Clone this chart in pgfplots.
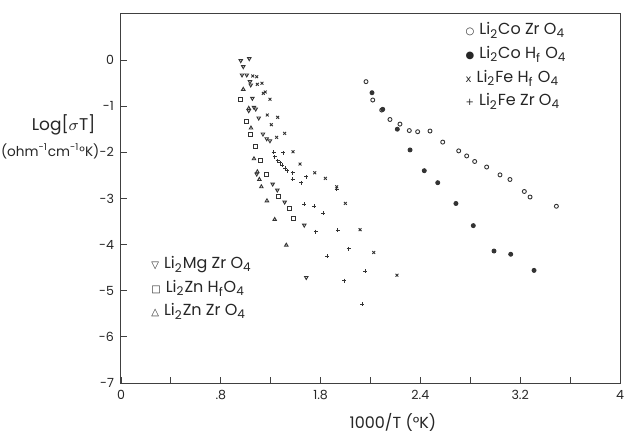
\documentclass[border=0pt]{standalone}
\usepackage{pgfplots}
\pgfplotsset{compat=1.18}
\usepackage{fontspec}
\setmainfont{Poppins}
\newfontfamily\sym{DejaVu Sans}

\newcommand{\sub}[1]{\textsubscript{#1}}
\newcommand{\leg}[2]{{\sym\fontsize{5}{6}\selectfont #1}\hspace{2.5pt}#2}

\begin{document}
\begin{tikzpicture}
\path[use as bounding box] (-60.5pt,-28pt) rectangle (257.5pt,191.5pt);
\begin{axis}[
  at={(0,0)}, anchor=south west,
  width=249.5pt, height=184.6pt, scale only axis,
  xmin=0, xmax=4, ymin=-7, ymax=1,
  xtick={0,0.4,0.8,1.2,1.6,2,2.4,2.8,3.2,3.6,4},
  xticklabels={0,,.8,,1.8,,2.4,,3.2,,4},
  ytick={-7,-6,-5,-4,-3,-2,-1,0},
  tick pos=left, tick align=inside,
  major tick length=3pt,
  axis line style={black!75, line width=0.5pt},
  every tick/.style={black!75, line width=0.4pt},
  tick label style={font=\fontsize{6.3}{7}\selectfont, text=black!85},
  /pgf/number format/assume math mode=true,
  clip=false,
  pts/.style={only marks, mark size=1pt, color=black!80, mark options={line width=0.45pt}},
]
% Li2 Co Zr O4
\addplot[pts, mark=o] coordinates {
(1.964,-0.47)(2.018,-0.868)(2.09,-1.085)(2.156,-1.29)(2.236,-1.39)(2.311,-1.53)
(2.378,-1.555)(2.477,-1.54)(2.579,-1.78)(2.707,-1.97)(2.771,-2.08)(2.835,-2.20)
(2.931,-2.32)(3.038,-2.49)(3.118,-2.59)(3.233,-2.85)(3.279,-2.97)(3.49,-3.17)};
% Li2 Co Hf O4
\addplot[pts, mark=*] coordinates {
(2.012,-0.71)(2.098,-1.07)(2.215,-1.50)(2.317,-1.95)(2.431,-2.40)(2.539,-2.66)
(2.685,-3.11)(2.824,-3.59)(2.99,-4.14)(3.124,-4.21)(3.311,-4.56)};
% Li2 Fe Hf O4
\addplot[pts, mark=x] coordinates {
(1.056,-0.347)(1.088,-0.362)(1.093,-0.527)(1.130,-0.505)(1.141,-0.722)(1.157,-0.694)
(1.194,-0.852)(1.173,-1.193)(1.256,-1.243)(1.205,-1.403)(1.248,-1.677)(1.312,-1.590)
(1.379,-1.989)(1.435,-2.256)(1.553,-2.445)(1.638,-2.566)(1.729,-2.748)(1.798,-3.108)
(1.916,-3.677)(2.026,-4.171)(2.212,-4.664)};
% Li2 Fe Zr O4
\addplot[pts, mark=+] coordinates {
(1.224,-2.002)(1.301,-2.011)(1.234,-2.098)(1.256,-2.184)(1.277,-2.228)(1.291,-2.278)
(1.317,-2.349)(1.333,-2.401)(1.376,-2.445)(1.485,-2.531)(1.376,-2.588)(1.443,-2.662)
(1.729,-2.798)(1.467,-3.130)(1.547,-3.167)(1.619,-3.325)(1.562,-3.720)(1.739,-3.694)
(1.651,-4.252)(1.825,-4.093)(1.958,-4.577)(1.790,-4.779)(1.934,-5.293)};
% Li2 Mg Zr O4
\addplot[pts, mark=triangle, mark options={rotate=180, line width=0.45pt}] coordinates {
(0.960,-0.015)(1.028,0.028)(0.980,-0.145)(0.970,-0.325)(1.008,-0.325)(1.034,-0.471)
(1.040,-0.542)(1.053,-0.831)(1.024,-1.100)(1.066,-1.026)(1.080,-1.063)(1.104,-1.258)
(1.138,-1.605)(1.168,-1.707)(1.194,-1.751)(1.088,-2.473)(1.216,-2.690)(1.253,-2.820)
(1.312,-3.080)(1.469,-3.579)(1.485,-4.714)};
% Li2 Zn Hf O4
\addplot[pts, mark=square] coordinates {
(0.960,-0.852)(1.002,-1.338)(1.040,-1.605)(1.074,-1.881)(1.120,-2.184)(1.168,-2.488)
(1.261,-2.950)(1.347,-3.217)(1.383,-3.438)};
% Li2 Zn Zr O4
\addplot[pts, mark=triangle] coordinates {
(0.980,-0.636)(1.024,-1.048)(1.042,-1.475)(1.066,-2.141)(1.093,-2.423)(1.109,-2.588)
(1.125,-2.748)(1.170,-3.052)(1.232,-3.456)(1.325,-4.013)};

\begin{scope}[every node/.style={anchor=west, inner sep=0pt, text=black!85, font=\fontsize{8}{9.6}\selectfont}]
\node at (axis cs:2.76,0.64) {\leg{○}{Li\sub{2}Co Zr O\sub{4}}};
\node at (axis cs:2.76,0.12) {\leg{●}{Li\sub{2}Co H\sub{f} O\sub{4}}};
\node at (axis cs:2.76,-0.40) {\leg{x}{Li\sub{2}Fe H\sub{f} O\sub{4}}};
\node at (axis cs:2.76,-0.90) {\leg{+}{Li\sub{2}Fe Zr O\sub{4}}};
\node at (axis cs:0.24,-4.44) {\leg{▽}{Li\sub{2}Mg Zr O\sub{4}}};
\node at (axis cs:0.24,-4.95) {\leg{□}{Li\sub{2}Zn H\sub{f}O\sub{4}}};
\node at (axis cs:0.24,-5.45) {\leg{△}{Li\sub{2}Zn Zr O\sub{4}}};
\end{scope}
\node[text=black!85, font=\fontsize{8.5}{10}\selectfont, inner sep=0pt] at (axis cs:-0.46,-1.40) {Log[$\sigma$T]};
\node[anchor=east, text=black!85, font=\fontsize{6.8}{8}\selectfont, inner sep=0pt] at (axis cs:-0.17,-1.98) {(ohm\textsuperscript{-1}cm\textsuperscript{-1}°K)};
\node[text=black!85, font=\fontsize{8}{9.6}\selectfont, inner sep=0pt] at (axis cs:2.18,-7.85) {1000/T (°K)};
\end{axis}
\end{tikzpicture}
\end{document}
